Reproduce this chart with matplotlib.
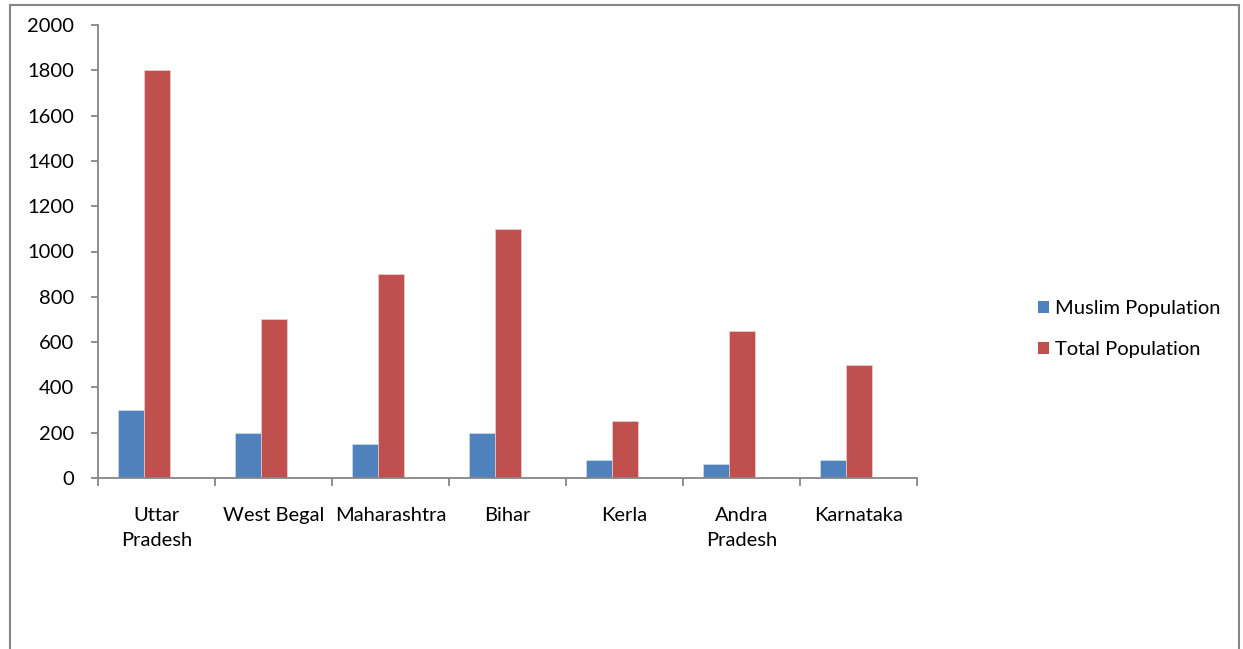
import matplotlib.pyplot as plt
import numpy as np
from matplotlib.lines import Line2D
from matplotlib.patches import Patch

plt.rcParams["font.family"] = ["Lato", "DejaVu Sans"]

states = ["Uttar\nPradesh", "West Begal", "Maharashtra", "Bihar", "Kerla", "Andra\nPradesh", "Karnataka"]
muslim_pop = [300, 200, 150, 200, 80, 60, 80]
total_pop = [1800, 700, 900, 1100, 250, 650, 500]
series_names = ["Muslim Population", "Total Population"]
colors = ["#4F81BD", "#C0504D"]
axis_grey = "#868686"

W, H = 1243, 649
fig = plt.figure(figsize=(W / 100, H / 100), dpi=100)
ax = fig.add_axes([98 / W, 1 - 478 / H, 819 / W, 453 / H])

# Excel-style cluster: three slots (third empty), gap width 150%
bw = 1 / 4.5
x = np.arange(len(states))
ax.bar(x - bw, muslim_pop, bw, color=colors[0], edgecolor="#dbe4f0", linewidth=0.4)
ax.bar(x, total_pop, bw, color=colors[1], edgecolor="#f0dcdc", linewidth=0.4)

ax.set_xlim(-0.5, len(states) - 0.5)
ax.set_ylim(0, 2000)
ax.set_yticks(np.arange(0, 2001, 200))
ax.set_xticks(np.arange(len(states) + 1) - 0.5)
ax.set_xticklabels([])
ax.set_xticks(x, minor=True)
ax.set_xticklabels(states, minor=True, fontsize=14.5, linespacing=1.55)

for s in ["top", "right"]:
    ax.spines[s].set_visible(False)
for s in ["left", "bottom"]:
    ax.spines[s].set_color(axis_grey)
    ax.spines[s].set_linewidth(1.3)
ax.tick_params(axis="y", which="major", length=5, color=axis_grey, width=1.3,
               labelsize=14.5, pad=12)
ax.tick_params(axis="x", which="major", length=6, color=axis_grey, width=1.3)
ax.tick_params(axis="x", which="minor", length=0, pad=21)

handles = [Patch(facecolor=c) for c in colors]
fig.legend(handles, series_names, loc="center left", bbox_to_anchor=(1020 / W, 1 - 329 / H),
           frameon=False, fontsize=14.5, handlelength=0.55, handleheight=0.55,
           handletextpad=0.3, labelspacing=1.2)

# outer chart border (bottom edge falls outside the picture)
fig.add_artist(Line2D([10 / W, 10 / W], [0, 1 - 5 / H], color=axis_grey, lw=1.5))
fig.add_artist(Line2D([10 / W, 1239 / W], [1 - 5 / H, 1 - 5 / H], color=axis_grey, lw=1.5))
fig.add_artist(Line2D([1239 / W, 1239 / W], [0, 1 - 5 / H], color=axis_grey, lw=1.5))

fig.savefig("out.png", dpi=100)
